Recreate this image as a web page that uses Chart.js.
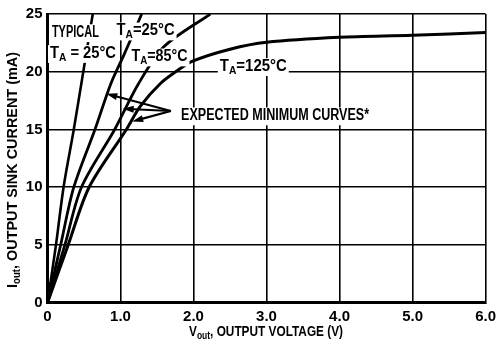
<!DOCTYPE html>
<html>
<head>
<meta charset="utf-8">
<script src="https://cdn.jsdelivr.net/npm/chart.js@4.4.1/dist/chart.umd.min.js"></script>
<style>
  html, body { margin: 0; padding: 0; background: #ffffff; }
  #wrap { width: 501px; height: 344px; position: relative; }
</style>
</head>
<body>
<div id="wrap"><canvas id="sink"></canvas></div>
<script>
// Output sink current vs output voltage
var FONT = '"Liberation Sans", Arial, sans-serif';

var xTicks = [0, 1, 2, 3, 4, 5, 6];
var yTicks = [0, 5, 10, 15, 20, 25];

// typical, TA = 25°C
var typVolts = [0, 0.116, 0.22, 0.36, 0.49, 0.62];
var typCurrent = [0, 5, 10, 15, 20, 25];

// expected minimum, TA = 25°C
var min25Volts = [0, 0.18, 0.36, 0.65, 0.87, 1.05, 1.29];
var min25Current = [0, 5, 10, 15, 19, 21.5, 25];

// expected minimum, TA = 85°C
var min85Volts = [0, 0.238, 0.465, 0.92, 1.25, 1.6, 2.23];
var min85Current = [0, 5, 10, 15, 19, 22.2, 25];

// expected minimum, TA = 125°C
var min125Volts = [0, 0.283, 0.57, 1.08, 1.27, 1.55, 1.78, 1.98, 2.5, 3.0, 4.0, 5.0, 6.0];
var min125Current = [0, 5, 10, 15, 17, 19, 20.1, 20.9, 21.95, 22.55, 22.98, 23.15, 23.4];

function pts(xs, ys) {
    return xs.map(function (v, i) { return { x: v, y: ys[i] }; });
}

function curve(xs, ys, w) {
    return {
        data: pts(xs, ys),
        borderColor: '#000000',
        borderWidth: w,
        pointRadius: 0,
        tension: 0.3,
        fill: false
    };
}

// text pieces: [text, isSubscript]; w = set width in px (condensed face)
var labels = [
    { at: [0.06, 23.0], w: 47, parts: [['TYPICAL', false]] },
    { at: [0.034, 21.2], w: 66, parts: [['T', false], ['A', true], [' = 25\u00B0C', false]] },
    { at: [0.946, 23.15], w: 58, parts: [['T', false], ['A', true], ['=25\u00B0C', false]] },
    { at: [1.15, 20.9], w: 56, parts: [['T', false], ['A', true], ['=85\u00B0C', false]] },
    { at: [2.36, 20.07], w: 67, parts: [['T', false], ['A', true], ['=125\u00B0C', false]] },
    { at: [1.83, 15.8], w: 188, parts: [['EXPECTED MINIMUM CURVES*', false]] }
];

// arrows from the note to each minimum curve
var arrowTail = [1.69, 16.6];
var arrowHeads = [[0.805, 18.1], [1.03, 16.8], [1.16, 15.7]];

function drawParts(ctx, parts, x, y, size, width, box) {
    var big = 'bold ' + size + 'px ' + FONT;
    var small = 'bold ' + Math.round(size * 0.68) + 'px ' + FONT;
    var w = 0;
    parts.forEach(function (p) {
        ctx.font = p[1] ? small : big;
        w += ctx.measureText(p[0]).width;
    });
    if (box) {
        ctx.fillStyle = '#ffffff';
        ctx.fillRect(x - 2, y - size * 0.8, width + 4, size * 0.8 + 5);
    }
    ctx.save();
    ctx.translate(x, y);
    ctx.scale(width / w, 1);
    ctx.fillStyle = '#000000';
    var cx = 0;
    parts.forEach(function (p) {
        ctx.font = p[1] ? small : big;
        ctx.fillText(p[0], cx, p[1] ? 3 : 0);
        cx += ctx.measureText(p[0]).width;
    });
    ctx.restore();
}

var notesPlugin = {
    id: 'sinkNotes',
    afterDatasetsDraw: function (chart) {
        var ctx = chart.ctx;
        var xs = chart.scales.x, ys = chart.scales.y;
        ctx.save();
        ctx.textBaseline = 'alphabetic';
        ctx.textAlign = 'left';
        labels.forEach(function (l) {
            drawParts(ctx, l.parts, xs.getPixelForValue(l.at[0]), ys.getPixelForValue(l.at[1]), 16, l.w, true);
        });

        var tx = xs.getPixelForValue(arrowTail[0]), ty = ys.getPixelForValue(arrowTail[1]);
        ctx.strokeStyle = '#000000';
        ctx.fillStyle = '#000000';
        ctx.lineWidth = 2.2;
        arrowHeads.forEach(function (h) {
            var hx = xs.getPixelForValue(h[0]), hy = ys.getPixelForValue(h[1]);
            var a = Math.atan2(hy - ty, hx - tx);
            ctx.beginPath();
            ctx.moveTo(tx, ty);
            ctx.lineTo(hx - 6 * Math.cos(a), hy - 6 * Math.sin(a));
            ctx.stroke();
            ctx.beginPath();
            ctx.moveTo(hx, hy);
            ctx.lineTo(hx - 11 * Math.cos(a) + 3.5 * Math.sin(a), hy - 11 * Math.sin(a) - 3.5 * Math.cos(a));
            ctx.lineTo(hx - 11 * Math.cos(a) - 3.5 * Math.sin(a), hy - 11 * Math.sin(a) + 3.5 * Math.cos(a));
            ctx.closePath();
            ctx.fill();
        });

        // axis titles with subscripts
        var area = chart.chartArea;
        var xw = 154;
        drawParts(ctx, [['V', false], ['out', true], [', OUTPUT VOLTAGE (V)', false]],
            (area.left + area.right) / 2 - xw / 2 - 0.5, 336, 14, xw, false);

        var yw = 236;
        ctx.translate(17, 170);
        ctx.rotate(-Math.PI / 2);
        drawParts(ctx, [['I', false], ['out', true], [', OUTPUT SINK CURRENT (mA)', false]],
            -yw / 2, 0, 15, yw, false);
        ctx.restore();
    }
};

new Chart(document.getElementById('sink').getContext('2d'), {
    type: 'line',
    data: {
        datasets: [
            curve(typVolts, typCurrent, 2.6),
            curve(min25Volts, min25Current, 2.8),
            curve(min85Volts, min85Current, 2.8),
            curve(min125Volts, min125Current, 3)
        ]
    },
    plugins: [notesPlugin],
    options: {
        responsive: true,
        maintainAspectRatio: false,
        animation: false,
        layout: { padding: { top: 8, right: 12.5, left: 0, bottom: 0 } },
        plugins: {
            legend: { display: false },
            tooltip: { enabled: false }
        },
        scales: {
            x: {
                type: 'linear',
                min: 0,
                max: 6,
                afterFit: function (s) { s.height = 41.3; },
                afterBuildTicks: function (s) { s.ticks = xTicks.map(function (v) { return { value: v }; }); },
                ticks: {
                    color: '#000000',
                    padding: 5,
                    maxRotation: 0,
                    font: { size: 15, weight: 'bold', family: FONT },
                    callback: function (v) { return v === 0 ? '0' : v.toFixed(1); }
                },
                grid: { color: '#000000', lineWidth: 1.6, drawTicks: false },
                border: { color: '#000000', width: 3 }
            },
            y: {
                type: 'linear',
                min: 0,
                max: 25,
                afterFit: function (s) { s.width = 47.5; },
                afterBuildTicks: function (s) { s.ticks = yTicks.map(function (v) { return { value: v }; }); },
                ticks: {
                    color: '#000000',
                    padding: 5,
                    font: { size: 15, weight: 'bold', family: FONT }
                },
                grid: { color: '#000000', lineWidth: 1.6, drawTicks: false },
                border: { color: '#000000', width: 3 }
            }
        }
    }
});
</script>
</body>
</html>
